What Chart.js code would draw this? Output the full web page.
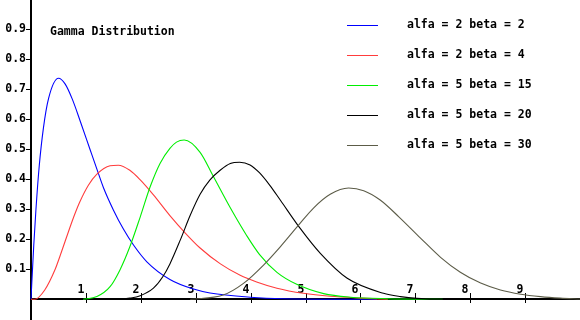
<!DOCTYPE html>
<html>
<head>
<meta charset="utf-8">
<script src="https://cdn.jsdelivr.net/npm/chart.js@4"></script>
<style>
  body { margin: 0; background: #fff; }
  canvas { display: block; }
</style>
</head>
<body>
<canvas id="graf" width="580" height="320"></canvas>
<script>
// värden
const labels = ["alfa = 2 beta = 2", "alfa = 2 beta = 4", "alfa = 5 beta = 15", "alfa = 5 beta = 20", "alfa = 5 beta = 30"];
const colors = ["#0000ff", "#ff3c3c", "#00ee00", "#000000", "#5c5c48"];

const blueX = [0, 0.015, 0.05, 0.09, 0.15, 0.225, 0.32, 0.5, 0.62, 0.75, 0.9, 1.08, 1.2, 1.32, 1.5, 1.68, 1.87, 2.11, 2.53, 2.96, 3.26, 3.99, 4.6, 6.3];
const blueY = [0, 0.058, 0.18, 0.3, 0.445, 0.57, 0.67, 0.737, 0.718, 0.668, 0.592, 0.497, 0.434, 0.372, 0.298, 0.235, 0.18, 0.125, 0.066, 0.034, 0.021, 0.007, 0.002, 0];

const redX = [0, 0.07, 0.25, 0.44, 0.53, 0.71, 0.8, 0.89, 1.045, 1.2, 1.44, 1.59, 1.8, 1.99, 2.23, 2.53, 2.81, 3.08, 3.45, 3.81, 4.11, 4.48, 4.96, 5.45, 6.0, 6.5];
const redY = [0, 0, 0.031, 0.1, 0.145, 0.24, 0.285, 0.325, 0.38, 0.417, 0.445, 0.447, 0.43, 0.398, 0.348, 0.279, 0.221, 0.171, 0.118, 0.08, 0.058, 0.037, 0.02, 0.01, 0.004, 0];

const greenX = [0.95, 1.2, 1.44, 1.62, 1.8, 1.99, 2.17, 2.35, 2.53, 2.65, 2.79, 3.08, 3.32, 3.63, 3.93, 4.16, 4.48, 4.84, 5.33, 5.82, 6.5, 7.5];
const greenY = [0, 0.009, 0.042, 0.098, 0.175, 0.275, 0.375, 0.453, 0.503, 0.524, 0.531, 0.49, 0.41, 0.305, 0.212, 0.15, 0.09, 0.05, 0.019, 0.007, 0.002, 0];

const blackX = [1.56, 1.8, 1.99, 2.23, 2.4, 2.53, 2.72, 2.9, 3.08, 3.26, 3.45, 3.63, 3.8, 3.99, 4.16, 4.35, 4.54, 4.9, 5.27, 5.76, 6.42, 6.73, 7.03, 7.5, 10];
const blackY = [0, 0.004, 0.012, 0.037, 0.075, 0.118, 0.198, 0.28, 0.35, 0.398, 0.431, 0.453, 0.457, 0.448, 0.422, 0.38, 0.331, 0.237, 0.153, 0.07, 0.020, 0.009, 0.003, 0, 0];

const oliveX = [2.9, 3.5, 3.87, 4.24, 4.54, 4.9, 5.15, 5.45, 5.785, 6.06, 6.36, 6.7, 7.09, 7.46, 7.82, 8.19, 8.55, 8.92, 9.28, 9.64, 10];
const oliveY = [0, 0.014, 0.053, 0.115, 0.175, 0.253, 0.305, 0.35, 0.371, 0.362, 0.331, 0.275, 0.205, 0.14, 0.09, 0.054, 0.031, 0.017, 0.009, 0.004, 0.001];

const xTicks = [1, 2, 3, 4, 5, 6, 7, 8, 9];
const yTicks = [0.1, 0.2, 0.3, 0.4, 0.5, 0.6, 0.7, 0.8, 0.9];
const title = "Gamma Distribution";

const seriesX = [blueX, redX, greenX, blackX, oliveX];
const seriesY = [blueY, redY, greenY, blackY, oliveY];

const font = "bold 11.5px 'DejaVu Sans Mono', 'Liberation Mono', monospace";

const datasets = seriesX.map((xs, i) => ({
    label: labels[i],
    data: xs.map((x, j) => ({ x: x, y: seriesY[i][j] })),
    borderColor: colors[i],
    borderWidth: 1.1,
    pointRadius: 0,
    fill: false,
    showLine: true,
    cubicInterpolationMode: "monotone",
    order: seriesX.length - 1 - i          // senare kurvor ritas ovanpå
}));

// axlar, streck och text ritas för hand
const axesPlugin = {
    id: "axes",
    beforeDatasetsDraw(chart) {
        const ctx = chart.ctx;
        const xs = chart.scales.x, ys = chart.scales.y;
        const x0 = Math.round(xs.getPixelForValue(0));
        const y0 = Math.round(ys.getPixelForValue(0));
        ctx.save();
        ctx.fillStyle = "#000";
        ctx.fillRect(x0 - 1, 0, 2, chart.height);            // y-axel
        ctx.fillRect(x0, y0 - 1, chart.width - x0, 2);       // x-axel
        ctx.font = font;
        ctx.textBaseline = "middle";
        ctx.textAlign = "right";
        yTicks.forEach(v => {
            const py = Math.round(ys.getPixelForValue(v)) + 0.5;
            ctx.fillRect(x0 - 5, py - 0.5, 5, 1);
            ctx.fillText(v.toFixed(1), x0 - 5, py);
        });
        ctx.textAlign = "center";
        xTicks.forEach(v => {
            const px = Math.round(xs.getPixelForValue(v));
            ctx.fillRect(px, y0 - 6, 1, 10);
            ctx.fillText(String(v), px - 5, y0 - 9);
        });
        ctx.restore();
    },
    afterDraw(chart) {
        const ctx = chart.ctx;
        ctx.save();
        ctx.font = font;
        ctx.textBaseline = "middle";
        ctx.textAlign = "left";
        ctx.fillStyle = "#000";
        ctx.fillText(title, 50, 32);
        // förklaring
        chart.data.datasets.forEach((ds, i) => {
            const py = 25.5 + i * 30;
            ctx.strokeStyle = ds.borderColor;
            ctx.lineWidth = 1;
            ctx.beginPath();
            ctx.moveTo(347, py);
            ctx.lineTo(378, py);
            ctx.stroke();
            ctx.fillStyle = "#000";
            ctx.fillText(ds.label, 407, py);
        });
        ctx.restore();
    }
};

new Chart("graf", {
    type: "scatter",
    data: { datasets: datasets },
    options: {
        responsive: false,
        animation: false,
        layout: { padding: 0 },
        plugins: { legend: { display: false }, tooltip: { enabled: false } },
        scales: {
            x: { type: "linear", display: false, min: -0.565, max: 10.0 },
            y: { type: "linear", display: false, min: -0.069, max: 0.9977 }
        }
    },
    plugins: [axesPlugin]
});
</script>
</body>
</html>
